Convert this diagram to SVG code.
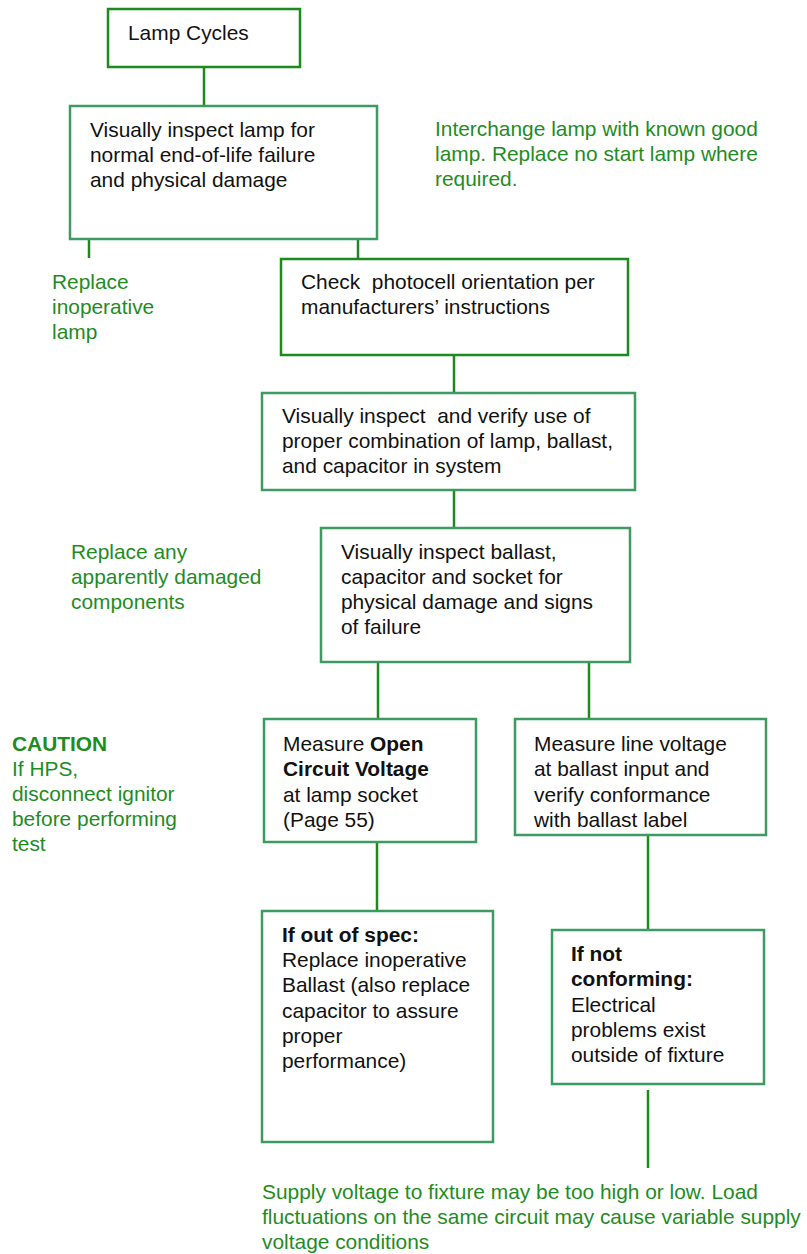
<svg xmlns="http://www.w3.org/2000/svg" width="807" height="1254" viewBox="0 0 807 1254">
<style>
text{font-family:"Liberation Sans",Arial,sans-serif;font-size:20.9px;fill:#111}
.g{fill:#1f8c1f}
.b{font-weight:bold}
.bd{fill:#fff;stroke:#1c8a1c;stroke-width:2.5}
.bl{fill:#fff;stroke:#3d9b62;stroke-width:2.5}
.c{stroke:#1c8a1c;stroke-width:2.5;fill:none}
</style>
<rect width="807" height="1254" fill="#fff"/>
<g id="connectors">
<line class="c" x1="204" y1="67" x2="204" y2="106"/>
<line class="c" x1="89" y1="239" x2="89" y2="258"/>
<line class="c" x1="358" y1="239" x2="358" y2="259"/>
<line class="c" x1="454" y1="355" x2="454" y2="393"/>
<line class="c" x1="454" y1="490" x2="454" y2="528"/>
<line class="c" x1="378" y1="662" x2="378" y2="719"/>
<line class="c" x1="589" y1="662" x2="589" y2="719"/>
<line class="c" x1="377" y1="842" x2="377" y2="911"/>
<line class="c" x1="648" y1="835" x2="648" y2="930"/>
<line class="c" x1="648" y1="1090" x2="648" y2="1168"/>
</g>
<g id="n1"><rect class="bd" x="108" y="9" width="192" height="58"/>
<text x="128" y="40">Lamp Cycles</text></g>
<g id="n2"><rect class="bl" x="70" y="106" width="307" height="133"/>
<text x="90" y="137">Visually inspect lamp for</text>
<text x="90" y="162">normal end-of-life failure</text>
<text x="90" y="187">and physical damage</text></g>
<g id="t1"><text class="g" x="435" y="136">Interchange lamp with known good</text>
<text class="g" x="435" y="161">lamp. Replace no start lamp where</text>
<text class="g" x="435" y="186">required.</text></g>
<g id="t2"><text class="g" x="52" y="289">Replace</text>
<text class="g" x="52" y="314">inoperative</text>
<text class="g" x="52" y="339">lamp</text></g>
<g id="n3"><rect class="bd" x="281" y="259" width="347" height="96"/>
<text x="301" y="289" xml:space="preserve">Check  photocell orientation per</text>
<text x="301" y="314">manufacturers’ instructions</text></g>
<g id="n4"><rect class="bl" x="262" y="393" width="373" height="97"/>
<text x="282" y="423" xml:space="preserve">Visually inspect  and verify use of</text>
<text x="282" y="448">proper combination of lamp, ballast,</text>
<text x="282" y="473">and capacitor in system</text></g>
<g id="t3"><text class="g" x="71" y="559">Replace any</text>
<text class="g" x="71" y="584">apparently damaged</text>
<text class="g" x="71" y="609">components</text></g>
<g id="n5"><rect class="bl" x="321" y="528" width="309" height="134"/>
<text x="341" y="559">Visually inspect ballast,</text>
<text x="341" y="584">capacitor and socket for</text>
<text x="341" y="609">physical damage and signs</text>
<text x="341" y="634">of failure</text></g>
<g id="t4"><text class="g b" x="12" y="751">CAUTION</text>
<text class="g" x="12" y="776">If HPS,</text>
<text class="g" x="12" y="801">disconnect ignitor</text>
<text class="g" x="12" y="826">before performing</text>
<text class="g" x="12" y="851">test</text></g>
<g id="n6"><rect class="bl" x="264" y="719" width="212" height="123"/>
<text x="283" y="751">Measure <tspan class="b">Open</tspan></text>
<text class="b" x="283" y="776">Circuit Voltage</text>
<text x="283" y="802">at lamp socket</text>
<text x="283" y="827">(Page 55)</text></g>
<g id="n7"><rect class="bl" x="515" y="719" width="251" height="116"/>
<text x="534" y="751">Measure line voltage</text>
<text x="534" y="776">at ballast input and</text>
<text x="534" y="802">verify conformance</text>
<text x="534" y="827">with ballast label</text></g>
<g id="n8"><rect class="bl" x="262" y="911" width="231" height="231"/>
<text class="b" x="282" y="942">If out of spec:</text>
<text x="282" y="967">Replace inoperative</text>
<text x="282" y="992">Ballast (also replace</text>
<text x="282" y="1018">capacitor to assure</text>
<text x="282" y="1043">proper</text>
<text x="282" y="1068">performance)</text></g>
<g id="n9"><rect class="bl" x="552" y="930" width="212" height="154"/>
<text class="b" x="571" y="961">If not</text>
<text class="b" x="571" y="986">conforming:</text>
<text x="571" y="1012">Electrical</text>
<text x="571" y="1037">problems exist</text>
<text x="571" y="1062">outside of fixture</text></g>
<g id="t5"><text class="g" x="262" y="1199">Supply voltage to fixture may be too high or low. Load</text>
<text class="g" x="262" y="1224">fluctuations on the same circuit may cause variable supply</text>
<text class="g" x="262" y="1249">voltage conditions</text></g>
</svg>
